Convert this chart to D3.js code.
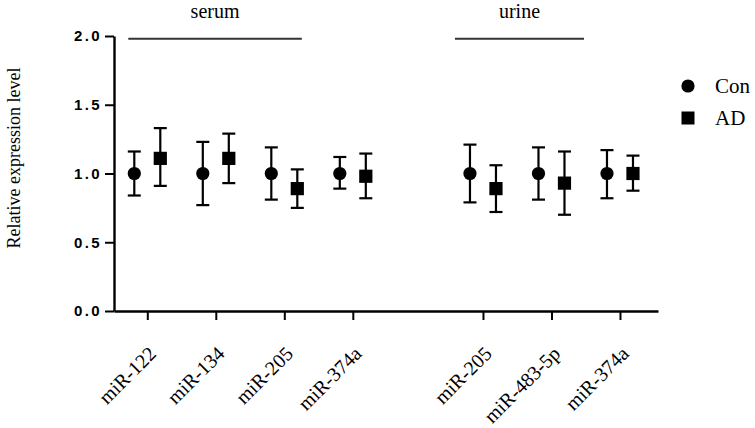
<!DOCTYPE html>
<html><head><meta charset="utf-8">
<script src="https://cdn.jsdelivr.net/npm/d3@7"></script>
<style>html,body{margin:0;padding:0;background:#fff;}</style>
</head><body><svg id="c" width="755" height="428"></svg>
<script>
const categories = ["miR-122","miR-134","miR-205","miR-374a","miR-205","miR-483-5p","miR-374a"];
const groupOf = [0,0,0,0,1,1,1];
const groups = ["serum","urine"];
const series = ["Con","AD"];
const conMean  = [1.00,1.00,1.00,1.00,1.00,1.00,1.00];
const conUpper = [1.16,1.23,1.19,1.12,1.21,1.19,1.17];
const conLower = [0.84,0.77,0.81,0.89,0.79,0.81,0.82];
const adMean   = [1.11,1.11,0.89,0.98,0.89,0.93,1.00];
const adUpper  = [1.33,1.29,1.03,1.145,1.06,1.16,1.13];
const adLower  = [0.91,0.93,0.75,0.82,0.72,0.70,0.875];
const yTicks = [0,0.5,1.0,1.5,2.0];

const svg = d3.select("#c");
const gapSlots = 0.9;
const slot = i => i + groupOf[i]*gapSlots;
const x = d3.scaleLinear().domain([-0.486, 7.455]).range([114, 658]);
const y = d3.scaleLinear().domain([0, 2]).range([311, 36]);
const off = 13;
const serif = "Liberation Serif, Times New Roman, serif";

// y axis
const yAxis = svg.append("g").attr("transform","translate(114,0)")
  .call(d3.axisLeft(y).tickValues(yTicks).tickFormat(d3.format(".1f")).tickSize(9).tickSizeOuter(0));
yAxis.select(".domain").attr("stroke","#000").attr("stroke-width",2.4);
yAxis.selectAll(".tick line").attr("stroke","#000").attr("stroke-width",2);
yAxis.selectAll(".tick text").attr("font-family","Liberation Sans, Arial, sans-serif")
  .attr("font-weight","bold").attr("font-size","15px").attr("letter-spacing","2.4px")
  .attr("fill","#000").attr("x",-12);

// x axis
const xAxis = svg.append("g").attr("transform","translate(0,311)")
  .call(d3.axisBottom(x).tickValues(categories.map((c,i)=>slot(i))).tickFormat("").tickSize(9).tickSizeOuter(0));
xAxis.select(".domain").attr("stroke","#000").attr("stroke-width",2.4);
xAxis.selectAll(".tick line").attr("stroke","#000").attr("stroke-width",2);

// x labels
svg.append("g").selectAll("text").data(categories).join("text")
  .attr("transform",(d,i)=>`translate(${x(slot(i))+10},${355}) rotate(-45)`)
  .attr("text-anchor","end")
  .attr("font-family",serif)
  .attr("font-size","20px").attr("fill","#000")
  .text(d=>d);

// y title
svg.append("text")
  .attr("transform",`translate(20,${158}) rotate(-90)`)
  .attr("text-anchor","middle")
  .attr("font-family",serif)
  .attr("font-size","18px").attr("fill","#000")
  .text("Relative expression level");

// group brackets
groups.forEach((g,gi)=>{
  const idx = categories.map((c,i)=>i).filter(i=>groupOf[i]===gi);
  const x0 = x(slot(idx[0])) - (gi===0?19:28);
  const x1 = x(slot(idx[idx.length-1])) - (gi===0?51:36);
  svg.append("line").attr("x1",x0).attr("x2",x1).attr("y1",y(1.98)).attr("y2",y(1.98))
    .attr("stroke","#333").attr("stroke-width",2);
  svg.append("text").attr("x",(x0+x1)/2).attr("y",18).attr("text-anchor","middle")
    .attr("font-family",serif)
    .attr("font-size","20px").attr("fill","#000").text(g);
});

// error bars + markers
function drawSeries(mean, upper, lower, dx, shape){
  const g = svg.append("g");
  categories.forEach((c,i)=>{
    const cx = x(slot(i)) + dx;
    g.append("line").attr("x1",cx).attr("x2",cx).attr("y1",y(upper[i])).attr("y2",y(lower[i]))
      .attr("stroke","#000").attr("stroke-width",2.2);
    [upper[i],lower[i]].forEach(v=>{
      g.append("line").attr("x1",cx-6.5).attr("x2",cx+6.5).attr("y1",y(v)).attr("y2",y(v))
        .attr("stroke","#000").attr("stroke-width",2.2);
    });
    if(shape==="circle"){
      g.append("circle").attr("cx",cx).attr("cy",y(mean[i])).attr("r",6.6).attr("fill","#000");
    } else {
      g.append("rect").attr("x",cx-6.6).attr("y",y(mean[i])-6.6).attr("width",13.2).attr("height",13.2).attr("fill","#000");
    }
  });
}
drawSeries(conMean, conUpper, conLower, -off, "circle");
drawSeries(adMean, adUpper, adLower, off, "square");

// legend
const leg = svg.append("g");
series.forEach((s,i)=>{
  const ly = 86 + i*32;
  if(i===0) leg.append("circle").attr("cx",688).attr("cy",ly).attr("r",6.6).attr("fill","#000");
  else leg.append("rect").attr("x",681.5).attr("y",ly-6.5).attr("width",13).attr("height",13).attr("fill","#000");
  leg.append("text").attr("x",715).attr("y",ly+7).attr("font-family",serif)
    .attr("font-size","21px").attr("fill","#000").text(s);
});
</script></body></html>
